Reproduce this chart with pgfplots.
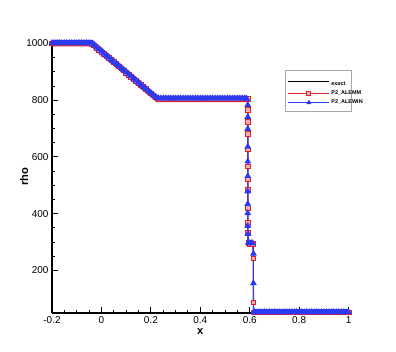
\documentclass[border=0pt]{standalone}
\usepackage{pgfplots}
\pgfplotsset{compat=1.18}
\usepackage{fontspec}
\setmainfont{Liberation Sans}
\setsansfont{Liberation Sans}
\definecolor{mmred}{HTML}{E0202A}
\definecolor{winblue}{HTML}{2B3BF5}

\begin{document}
\begin{tikzpicture}
\path[use as bounding box] (-52bp,-39bp) rectangle (344bp,313bp);
\begin{axis}[
  at={(0,0)}, anchor=south west,
  scale only axis, width=296.6bp, height=271bp,
  xmin=-0.2, xmax=1, ymin=50, ymax=1005,
  axis x line*=bottom, axis y line*=left,
  axis line style={line width=1.1pt},
  tick align=inside,
  major tick length=6bp, minor tick length=3.5bp,
  every tick/.style={black, line width=0.9pt},
  xtick={-0.2,0,0.2,0.4,0.6,0.8,1},
  xticklabels={-0.2,0,0.2,0.4,0.6,0.8,1},
  ytick={200,400,600,800,1000},
  minor x tick num=3, minor y tick num=3,
  tick label style={font=\fontsize{10}{11}\selectfont},
  /pgf/number format/assume math mode=true,
  /pgf/number format/1000 sep={},
  xlabel={\textbf{x}}, ylabel={\textbf{rho}},
  label style={font=\fontsize{11.2}{12}\selectfont},
  xlabel style={at={(axis description cs:0.5,-0.07)}, anchor=center},
  ylabel style={at={(axis description cs:-0.094,0.502)}, anchor=center},
  clip=false,
  legend style={at={(rel axis cs:0.786,0.895)}, anchor=north west,
    draw=gray!70, line width=0.5pt, font=\fontsize{5.5}{6}\selectfont\bfseries,
    inner xsep=2bp, inner ysep=4bp, row sep=0bp},
  legend cell align=left,
  legend image code/.code={\path (0bp,0bp) -- (41bp,0bp);
    \draw[#1, line width=1.1pt] (5bp,0bp) -- (37bp,0bp);
    \draw[#1, only marks, mark size=2bp] plot coordinates {(21bp,0bp)};},
]
\addplot[black, line width=1pt] coordinates {
(-0.2,1000)(-0.04,1000)(0.02,955)(0.08,912)(0.14,870)(0.20,828)(0.226,805)
(0.592,805)(0.592,294)(0.615,294)(0.615,52)(1,52)};
\addlegendentry{\rule{0pt}{8.5bp}exact\hspace*{-15bp}}

% dense cells of the two schemes form solid bands in the smooth parts
\addplot[mmred, line width=4bp, forget plot] coordinates {
(-0.205,997)(-0.04,997)(0.226,800)(0.59,800)};
\addplot[mmred, line width=4bp, forget plot] coordinates {
(0.615,50)(1.005,50)};

\addplot[mmred, line width=1pt, mark=square*, mark size=2.3bp,
  mark options={fill=mmred!35, draw=mmred, line width=0.8pt}] coordinates {
(-0.20,1000)(-0.19,1000)(-0.18,1000)(-0.17,1000)(-0.16,1000)(-0.15,1000)(-0.14,1000)(-0.13,1000)
(-0.12,1000)(-0.11,1000)(-0.10,1000)(-0.09,1000)(-0.08,1000)(-0.07,1000)(-0.06,1000)(-0.05,1000)
(-0.04,999)(-0.03,993)(-0.02,985)(-0.01,978)(0.00,971)(0.01,963)(0.02,956)(0.03,949)
(0.04,941)(0.05,934)(0.06,927)(0.07,919)(0.08,912)(0.09,905)(0.10,897)(0.11,890)
(0.12,883)(0.13,875)(0.14,868)(0.15,861)(0.16,853)(0.17,846)(0.18,839)(0.19,831)
(0.20,824)(0.21,817)(0.22,810)(0.23,806)(0.24,805)(0.25,805)(0.26,805)(0.27,805)
(0.28,805)(0.29,805)(0.30,805)(0.31,805)(0.32,805)(0.33,805)(0.34,805)(0.35,805)
(0.36,805)(0.37,805)(0.38,805)(0.39,805)(0.40,805)(0.41,805)(0.42,805)(0.43,805)
(0.44,805)(0.45,805)(0.46,805)(0.47,805)(0.48,805)(0.49,805)(0.50,805)(0.51,805)
(0.52,805)(0.53,805)(0.54,805)(0.55,805)(0.56,805)(0.57,805)(0.58,805)(0.588,805)
(0.592,804)(0.592,765)(0.592,723)(0.592,682)(0.592,626)(0.592,566)(0.592,521)(0.592,486)
(0.592,420)(0.592,368)(0.593,333)(0.594,296)(0.600,294)(0.606,294)(0.612,294)
(0.615,242)(0.615,88)(0.616,52)(0.62,52)(0.63,52)(0.64,52)(0.65,52)(0.66,52)(0.67,52)
(0.68,52)(0.69,52)(0.70,52)(0.71,52)(0.72,52)(0.73,52)(0.74,52)(0.75,52)(0.76,52)
(0.77,52)(0.78,52)(0.79,52)(0.80,52)(0.81,52)(0.82,52)(0.83,52)(0.84,52)(0.85,52)
(0.86,52)(0.87,52)(0.88,52)(0.89,52)(0.90,52)(0.91,52)(0.92,52)(0.93,52)(0.94,52)
(0.95,52)(0.96,52)(0.97,52)(0.98,52)(0.99,52)(1.00,52)};
\addlegendentry{P2\_ALEMM\hspace*{-15bp}}

\addplot[winblue, line width=5bp, forget plot] coordinates {
(-0.205,1004)(-0.04,1004)(0.226,807)(0.588,807)};
\addplot[winblue, line width=5bp, forget plot] coordinates {
(0.615,55)(1.0,55)};

\addplot[winblue, line width=1pt, mark=triangle*, mark size=3bp,
  mark options={fill=winblue, draw=winblue}] coordinates {
(-0.20,1001)(-0.19,1001)(-0.18,1001)(-0.17,1001)(-0.16,1001)(-0.15,1001)(-0.14,1001)(-0.13,1001)
(-0.12,1001)(-0.11,1001)(-0.10,1001)(-0.09,1001)(-0.08,1001)(-0.07,1001)(-0.06,1001)(-0.05,1001)
(-0.04,1000)(-0.03,994)(-0.02,986)(-0.01,979)(0.00,972)(0.01,964)(0.02,957)(0.03,950)
(0.04,942)(0.05,935)(0.06,928)(0.07,920)(0.08,913)(0.09,906)(0.10,898)(0.11,891)
(0.12,884)(0.13,876)(0.14,869)(0.15,862)(0.16,854)(0.17,847)(0.18,840)(0.19,832)
(0.20,825)(0.21,818)(0.22,811)(0.23,807)(0.24,806)(0.25,806)(0.26,806)(0.27,806)
(0.28,806)(0.29,806)(0.30,806)(0.31,806)(0.32,806)(0.33,806)(0.34,806)(0.35,806)
(0.36,806)(0.37,806)(0.38,806)(0.39,806)(0.40,806)(0.41,806)(0.42,806)(0.43,806)
(0.44,806)(0.45,806)(0.46,806)(0.47,806)(0.48,806)(0.49,806)(0.50,806)(0.51,806)
(0.52,806)(0.53,806)(0.54,806)(0.55,806)(0.56,806)(0.57,806)(0.58,806)(0.588,805)
(0.592,783)(0.592,741)(0.592,699)(0.592,636)(0.592,584)(0.592,532)(0.592,479)(0.592,434)
(0.592,402)(0.592,357)(0.593,329)(0.594,298)(0.600,296)(0.606,296)(0.612,296)
(0.615,259)(0.615,155)(0.616,53)(0.62,53)(0.63,53)(0.64,53)(0.65,53)(0.66,53)(0.67,53)
(0.68,53)(0.69,53)(0.70,53)(0.71,53)(0.72,53)(0.73,53)(0.74,53)(0.75,53)(0.76,53)
(0.77,53)(0.78,53)(0.79,53)(0.80,53)(0.81,53)(0.82,53)(0.83,53)(0.84,53)(0.85,53)
(0.86,53)(0.87,53)(0.88,53)(0.89,53)(0.90,53)(0.91,53)(0.92,53)(0.93,53)(0.94,53)
(0.95,53)(0.96,53)(0.97,53)(0.98,53)(0.99,53)(1.00,53)};
\addlegendentry{P2\_ALEWIN\hspace*{-15bp}}
\end{axis}
\end{tikzpicture}
\end{document}
